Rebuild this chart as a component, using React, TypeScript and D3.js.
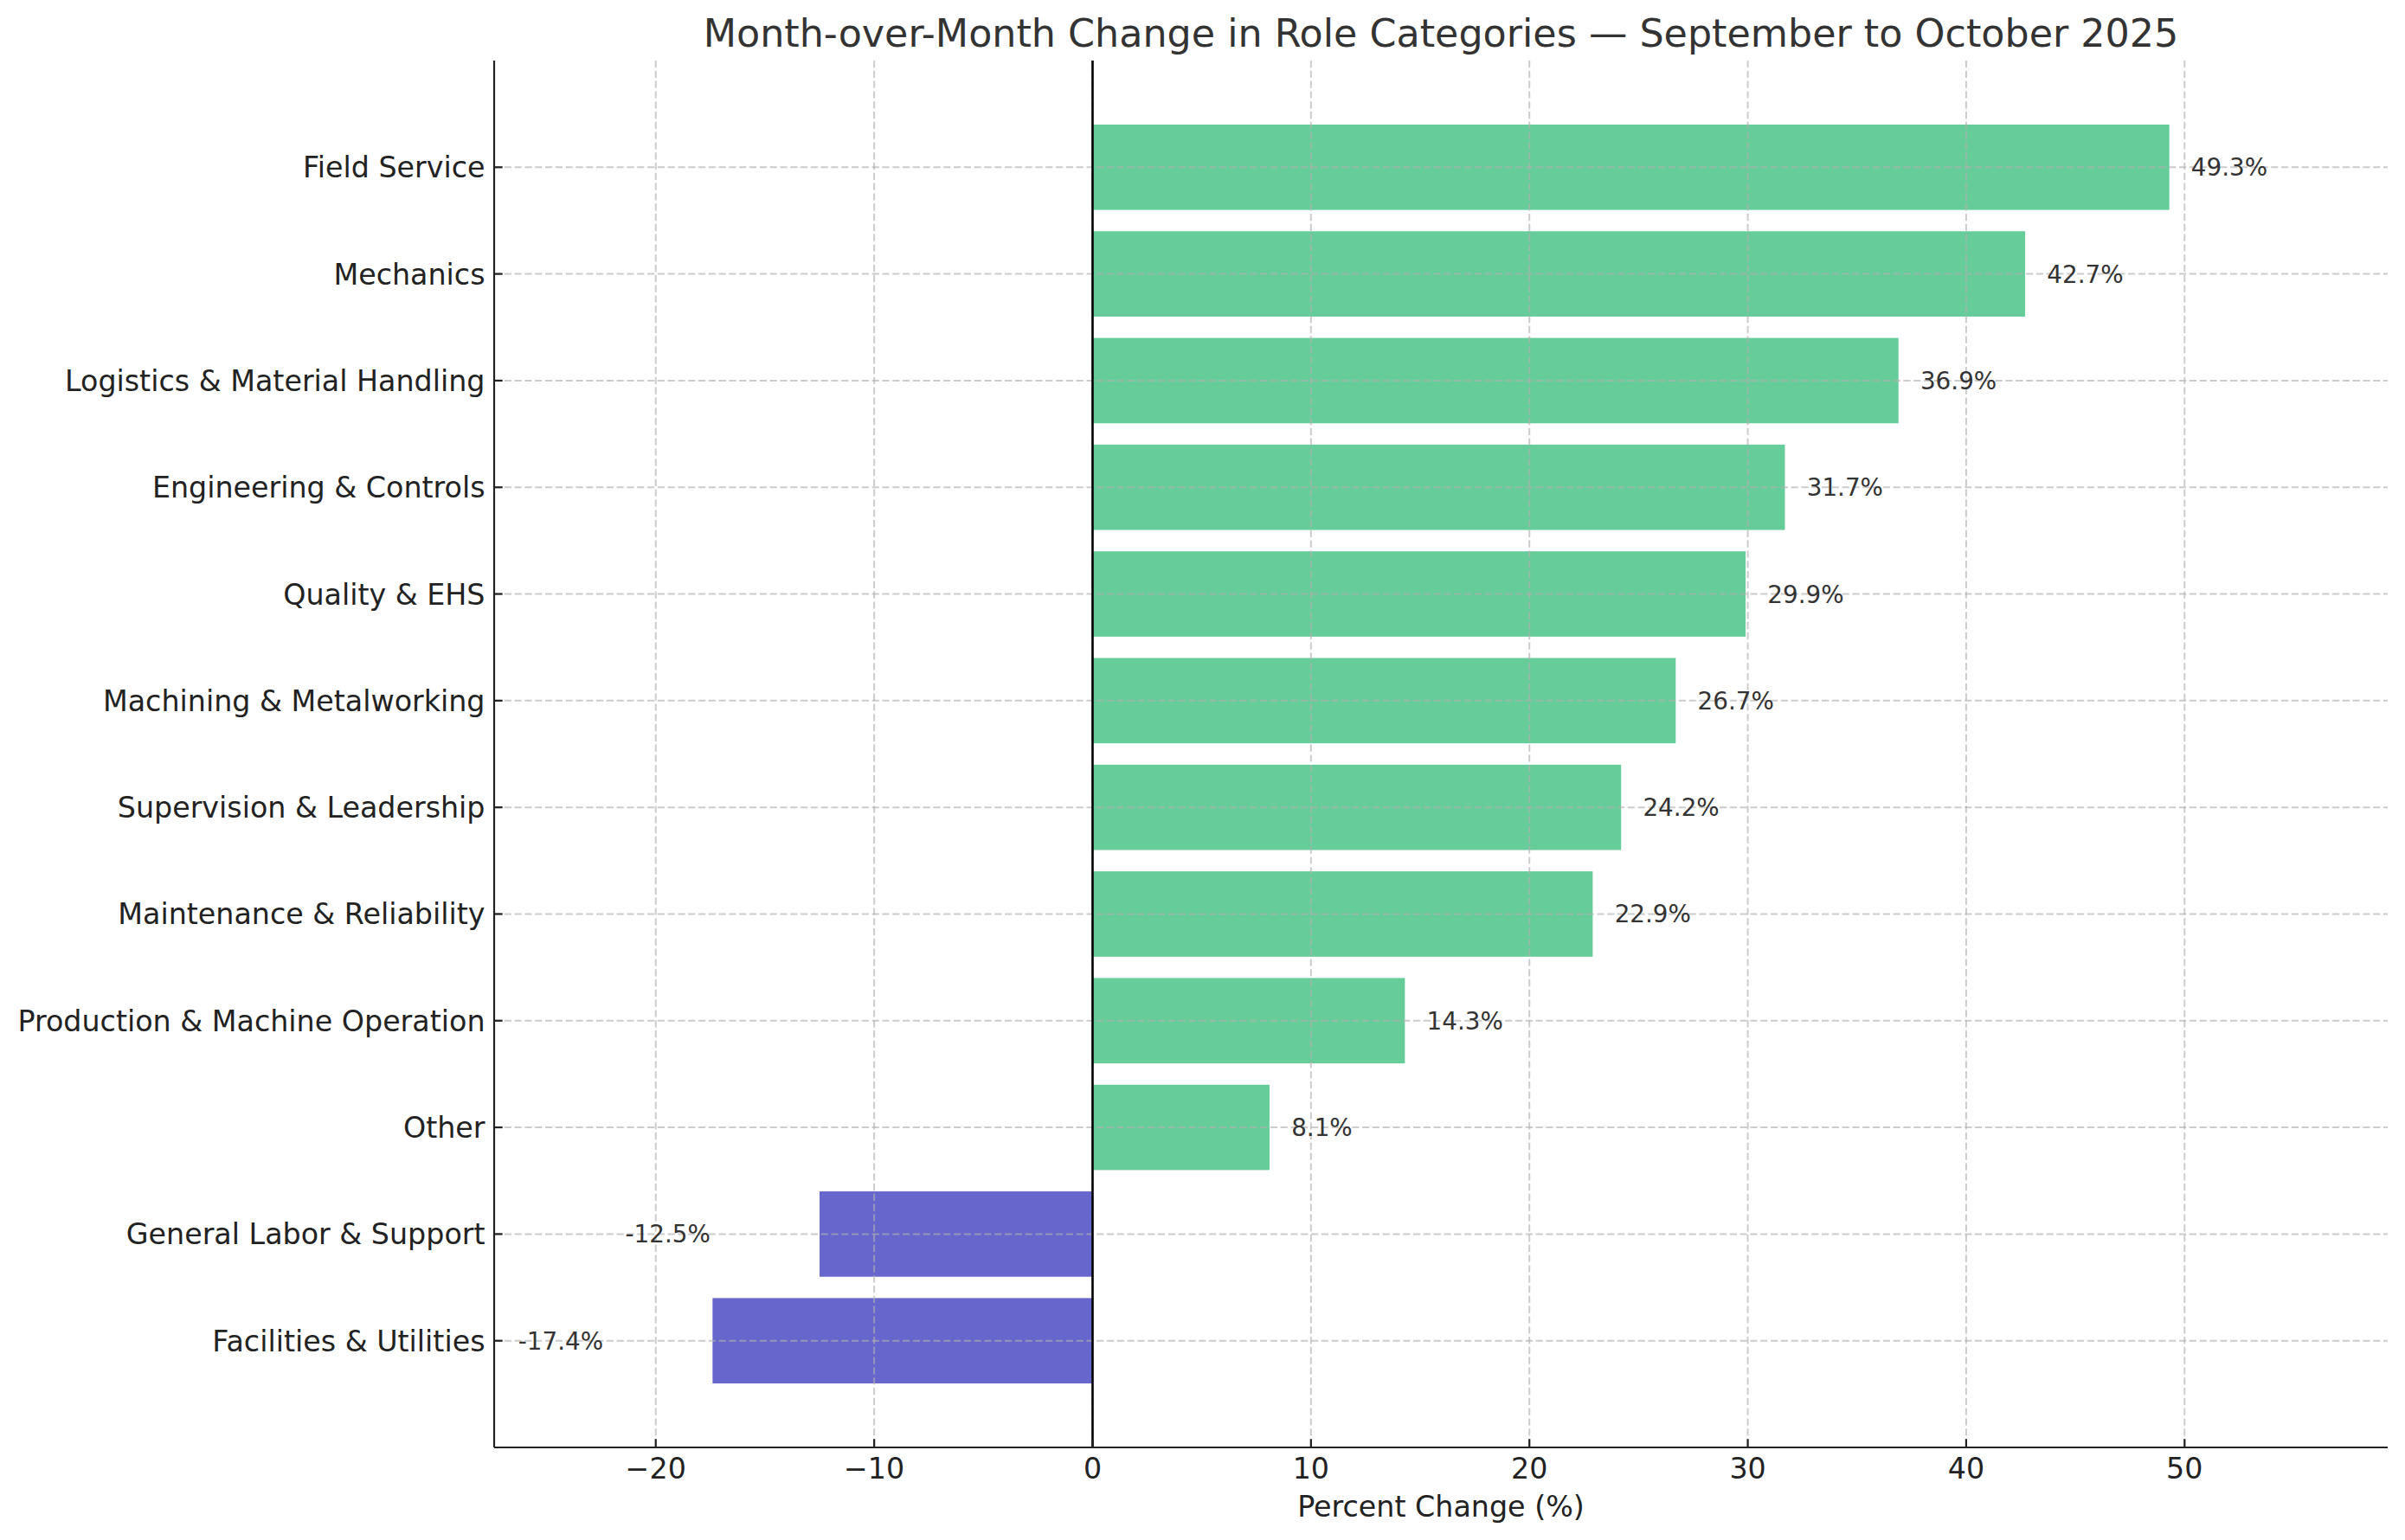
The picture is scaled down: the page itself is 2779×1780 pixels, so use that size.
import React, { useEffect, useRef } from 'react'
import * as d3 from 'd3'

// top to bottom as shown in the chart
const categories = [
    'Field Service',
    'Mechanics',
    'Logistics & Material Handling',
    'Engineering & Controls',
    'Quality & EHS',
    'Machining & Metalworking',
    'Supervision & Leadership',
    'Maintenance & Reliability',
    'Production & Machine Operation',
    'Other',
    'General Labor & Support',
    'Facilities & Utilities',
]
const changes = [49.3, 42.7, 36.9, 31.7, 29.9, 26.7, 24.2, 22.9, 14.3, 8.1, -12.5, -17.4]
const xTicks = [-20, -10, 0, 10, 20, 30, 40, 50]

const title = 'Month-over-Month Change in Role Categories — September to October 2025'
const xLabel = 'Percent Change (%)'

const App: React.FC = () => {
    const svgRef = useRef<SVGSVGElement | null>(null)

    useEffect(() => {
        document.body.style.margin = '0'
        if (!svgRef.current) return

        const width = 2779
        const height = 1780
        const margin = { top: 70, right: 20, bottom: 107, left: 571 }
        const innerW = width - margin.left - margin.right
        const innerH = height - margin.top - margin.bottom
        const font = '"DejaVu Sans", sans-serif'

        const svg = d3.select(svgRef.current)
        svg.selectAll('*').remove()

        const minV = d3.min(changes) as number
        const maxV = d3.max(changes) as number

        const x = d3
            .scaleLinear()
            .domain([minV - 10, maxV + 10])
            .range([0, innerW])

        const y = d3
            .scaleBand<string>()
            .domain(categories)
            .range([0, innerH])
            .paddingInner(0.2)
            .paddingOuter(0.6)

        const g = svg
            .append('g')
            .attr('transform', `translate(${margin.left},${margin.top})`)

        // bars
        g.selectAll('rect.bar')
            .data(categories)
            .join('rect')
            .attr('class', 'bar')
            .attr('x', (_, i) => x(Math.min(0, changes[i])))
            .attr('y', (d) => y(d) as number)
            .attr('width', (_, i) => Math.abs(x(changes[i]) - x(0)))
            .attr('height', y.bandwidth())
            .attr('fill', (_, i) => (changes[i] >= 0 ? '#66cc99' : '#6666cc'))

        // grid on top of bars
        const grid = g.append('g').attr('stroke', '#b0b0b0').attr('stroke-opacity', 0.65)
            .attr('stroke-width', 2).attr('stroke-dasharray', '8.2 3.6')
        grid.selectAll('line.vg')
            .data(xTicks)
            .join('line')
            .attr('class', 'vg')
            .attr('x1', (d) => x(d))
            .attr('x2', (d) => x(d))
            .attr('y1', 0)
            .attr('y2', innerH)
        grid.selectAll('line.hg')
            .data(categories)
            .join('line')
            .attr('class', 'hg')
            .attr('x1', 0)
            .attr('x2', innerW)
            .attr('y1', (d) => (y(d) as number) + y.bandwidth() / 2)
            .attr('y2', (d) => (y(d) as number) + y.bandwidth() / 2)

        // zero line
        g.append('line')
            .attr('x1', x(0))
            .attr('x2', x(0))
            .attr('y1', 0)
            .attr('y2', innerH)
            .attr('stroke', '#000')
            .attr('stroke-width', 2.6)

        // value labels
        g.selectAll('text.val')
            .data(categories)
            .join('text')
            .attr('class', 'val')
            .attr('x', (_, i) => (changes[i] >= 0 ? x(changes[i] + 1) : x(changes[i] - 5)))
            .attr('y', (d) => (y(d) as number) + y.bandwidth() / 2)
            .attr('dy', '0.36em')
            .attr('text-anchor', (_, i) => (changes[i] >= 0 ? 'start' : 'end'))
            .attr('font-family', font)
            .attr('font-size', 27.8)
            .attr('fill', '#333')
            .text((_, i) => `${changes[i].toFixed(1)}%`)

        // spines
        g.append('line')
            .attr('x1', 0).attr('x2', 0).attr('y1', 0).attr('y2', innerH)
            .attr('stroke', '#222').attr('stroke-width', 2.2)
        g.append('line')
            .attr('x1', 0).attr('x2', innerW).attr('y1', innerH).attr('y2', innerH)
            .attr('stroke', '#222').attr('stroke-width', 2.2)

        // x ticks (inward)
        const xt = g.append('g')
        xt.selectAll('line')
            .data(xTicks)
            .join('line')
            .attr('x1', (d) => x(d))
            .attr('x2', (d) => x(d))
            .attr('y1', innerH)
            .attr('y2', innerH - 9.7)
            .attr('stroke', '#222')
            .attr('stroke-width', 2.2)
        xt.selectAll('text')
            .data(xTicks)
            .join('text')
            .attr('x', (d) => x(d))
            .attr('y', innerH + 36)
            .attr('text-anchor', 'middle')
            .attr('font-family', font)
            .attr('font-size', 33.3)
            .attr('fill', '#222')
            .text((d) => (d < 0 ? `\u2212${Math.abs(d)}` : `${d}`))

        // y ticks (inward)
        const yt = g.append('g')
        yt.selectAll('line')
            .data(categories)
            .join('line')
            .attr('x1', 0)
            .attr('x2', 9.7)
            .attr('y1', (d) => (y(d) as number) + y.bandwidth() / 2)
            .attr('y2', (d) => (y(d) as number) + y.bandwidth() / 2)
            .attr('stroke', '#222')
            .attr('stroke-width', 2.2)
        yt.selectAll('text')
            .data(categories)
            .join('text')
            .attr('x', -10.5)
            .attr('y', (d) => (y(d) as number) + y.bandwidth() / 2)
            .attr('dy', '0.36em')
            .attr('text-anchor', 'end')
            .attr('font-family', font)
            .attr('font-size', 33.3)
            .attr('fill', '#222')
            .text((d) => d)

        // axis label
        g.append('text')
            .attr('x', innerW / 2)
            .attr('y', innerH + 80)
            .attr('text-anchor', 'middle')
            .attr('font-family', font)
            .attr('font-size', 33.3)
            .attr('fill', '#222')
            .text(xLabel)

        // title
        svg.append('text')
            .attr('x', margin.left + innerW / 2)
            .attr('y', 54)
            .attr('text-anchor', 'middle')
            .attr('font-family', font)
            .attr('font-size', 44.4)
            .attr('fill', '#333')
            .text(title)
    }, [])

    return <svg ref={svgRef} width={2779} height={1780} style={{ display: 'block', background: '#fff' }} />
}

export default App
